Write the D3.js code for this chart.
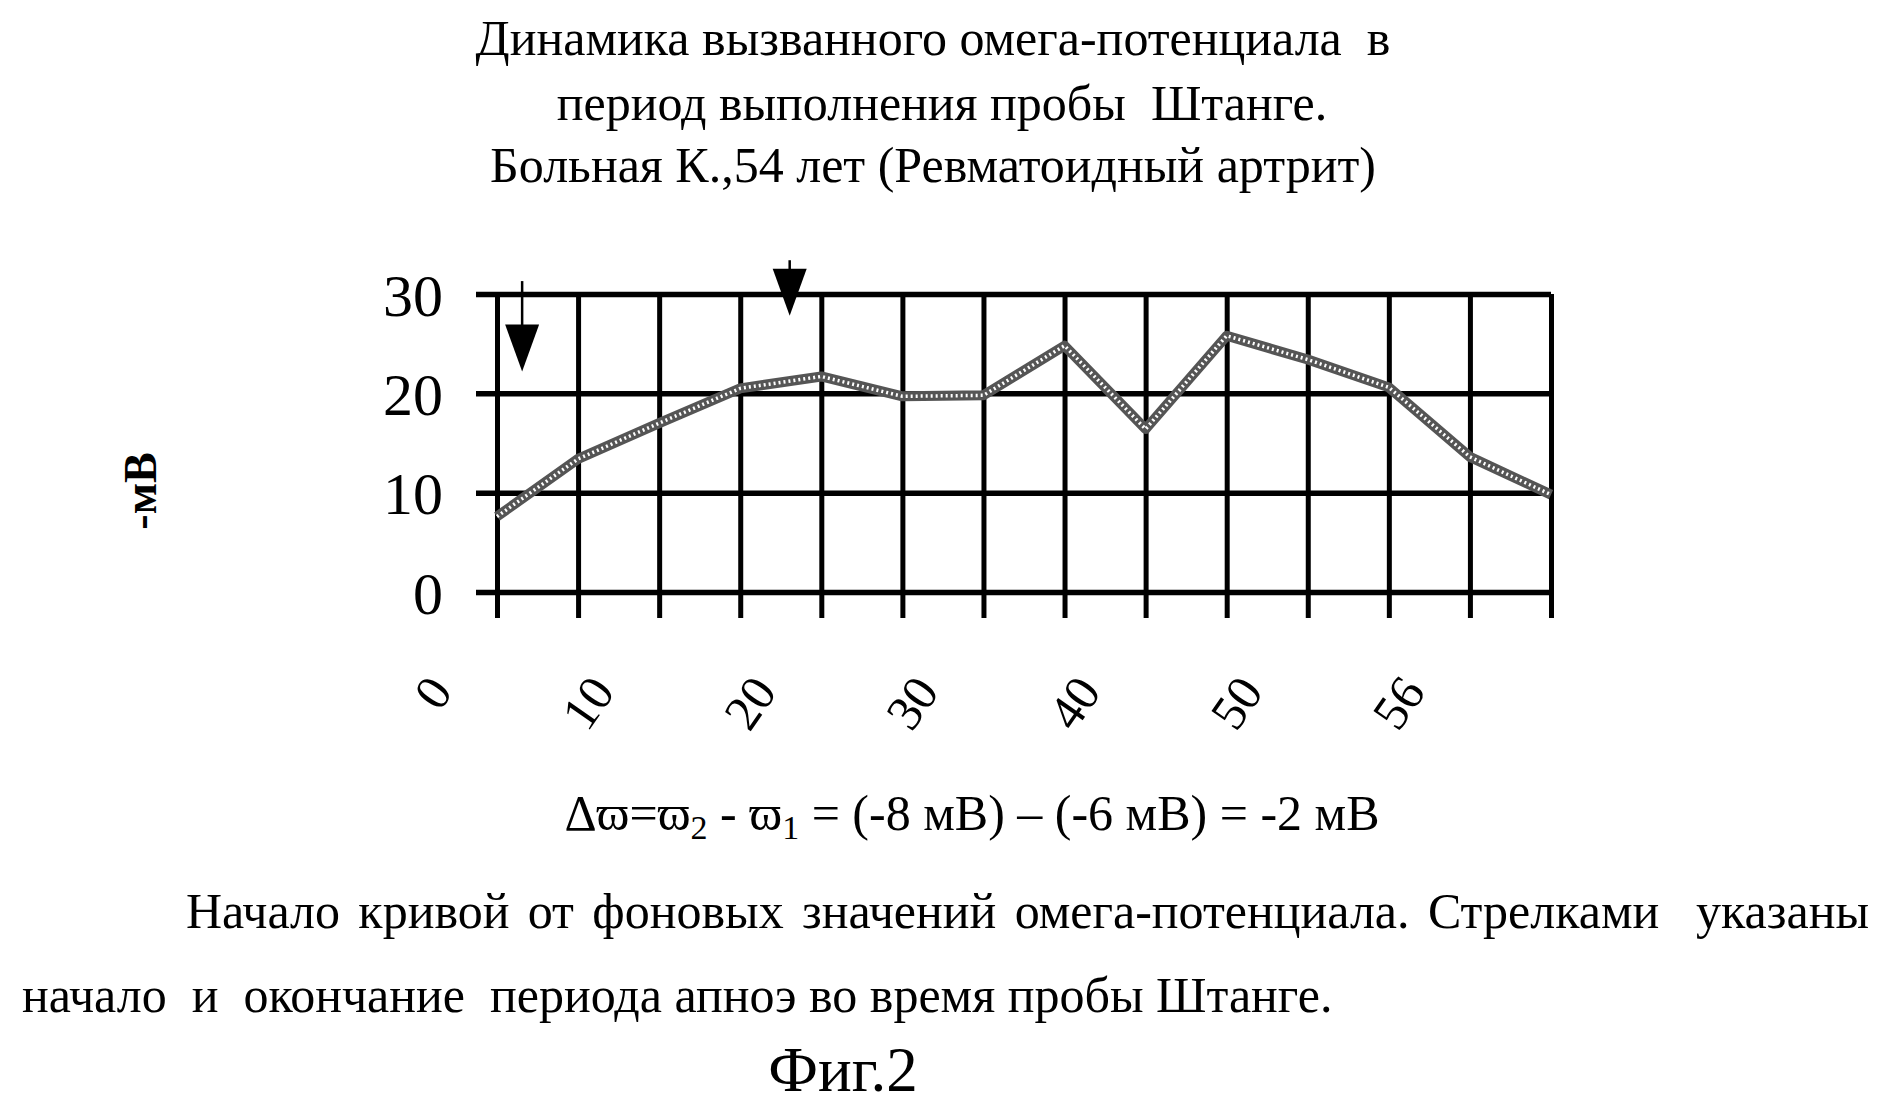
<!doctype html>
<html>
<head>
<meta charset="utf-8">
<title>Фиг.2</title>
<script src="https://d3js.org/d3.v7.min.js"></script>
<style>
  body { margin: 0; background: #fff; }
  svg text { font-family: "Liberation Serif", "Times New Roman", serif; fill: #000; white-space: pre; }
</style>
</head>
<body>
<script>
// values
var points = [0, 1, 2, 3, 4, 5, 6, 7, 8, 9, 10, 11, 12, 13];
var omega = [7.6, 13.4, 17.0, 20.5, 21.7, 19.7, 19.8, 24.8, 16.4, 25.8, 23.4, 20.6, 13.6, 9.8];
var xLabels = ["0", "10", "20", "30", "40", "50", "56"];   // every second point
var yTicks = [0, 10, 20, 30];
// arrows: start and end of apnoea (x in points, y in mV)
var arrowX = [0.31, 3.61];
var arrowTop = [31.3, 33.4];
var arrowTip = [22.2, 27.8];

var titleLines = [
  "Динамика вызванного омега-потенциала  в",
  "период выполнения пробы  Штанге.",
  "Больная К.,54 лет (Ревматоидный артрит)"
];

var W = 1879, H = 1119;
var svg = d3.select("body").append("svg").attr("width", W).attr("height", H);

var x = d3.scaleLinear().domain([0, 13]).range([497, 1551]);
var y = d3.scaleLinear().domain([0, 30]).range([592, 294]);

// title
svg.selectAll("text.title")
  .data(titleLines)
  .enter()
  .append("text")
  .attr("class", "title")
  .attr("x", function (d, i) { return i === 1 ? 942 : 933; })
  .attr("y", function (d, i) { return [55, 120, 182][i]; })
  .attr("text-anchor", "middle")
  .attr("font-size", 50)
  .text(function (d) { return d; });

// horizontal grid + y labels
var yAxis = d3.axisLeft(y).tickValues(yTicks).tickSize(x(13) - 476).tickPadding(33);
var gy = svg.append("g").attr("transform", "translate(" + x(13) + ",0)").call(yAxis);
gy.select(".domain").remove();
gy.selectAll("line").attr("stroke", "#000").attr("stroke-width", 5.5);
gy.selectAll("text").attr("font-size", 60).attr("font-family", "Liberation Serif").attr("dy", "0.35em");

// vertical grid + x ticks
var xAxis = d3.axisBottom(x).tickValues(points).tickSize(618 - y(30)).tickFormat(function (d) {
  return d % 2 === 0 ? xLabels[d / 2] : "";
});
var gx = svg.append("g").attr("transform", "translate(0," + y(30) + ")").call(xAxis);
gx.select(".domain").remove();
gx.selectAll("line").attr("stroke", "#000").attr("stroke-width", 5);
gx.selectAll("text")
  .attr("font-size", 50)
  .attr("font-family", "Liberation Serif")
  .attr("text-anchor", "end")
  .attr("y", 0)
  .attr("dy", "0.35em")
  .attr("transform", "translate(-58," + (y(0) - y(30) + 90) + ") rotate(-55)");

// data line
var line = d3.line().x(function (d, i) { return x(points[i]); }).y(function (d) { return y(d); });
svg.append("path").datum(omega).attr("d", line)
  .attr("fill", "none").attr("stroke", "#555").attr("stroke-width", 10).attr("stroke-linejoin", "round");
svg.append("path").datum(omega).attr("d", line)
  .attr("fill", "none").attr("stroke", "#fff").attr("stroke-width", 3.5)
  .attr("stroke-dasharray", "2,3").attr("stroke-linejoin", "round");

// arrows
arrowX.forEach(function (ax, i) {
  var px = x(ax), top = y(arrowTop[i]), tip = y(arrowTip[i]);
  svg.append("line").attr("x1", px).attr("x2", px).attr("y1", top).attr("y2", tip - 40)
    .attr("stroke", "#000").attr("stroke-width", 2.5);
  svg.append("path")
    .attr("d", "M" + (px - 17) + "," + (tip - 47) + "L" + (px + 17) + "," + (tip - 47) + "L" + px + "," + tip + "Z")
    .attr("fill", "#000");
});

// y axis title
svg.append("text")
  .attr("transform", "translate(156,491) rotate(-90)")
  .attr("text-anchor", "middle")
  .attr("font-size", 46)
  .attr("font-weight", "bold")
  .text("-мВ");

// formula
var f = svg.append("text").attr("x", 972).attr("y", 830).attr("text-anchor", "middle").attr("font-size", 50);
f.append("tspan").text("Δϖ=ϖ");
f.append("tspan").attr("font-size", 34).attr("dy", 9).text("2");
f.append("tspan").attr("dy", -9).text(" - ϖ");
f.append("tspan").attr("font-size", 34).attr("dy", 9).text("1");
f.append("tspan").attr("dy", -9).text(" = (-8 мВ) – (-6 мВ) = -2 мВ");

// note, first line justified
var p1 = svg.append("text").attr("x", 186).attr("y", 928).attr("font-size", 50)
  .text("Начало кривой от фоновых значений омега-потенциала. Стрелками  указаны");
var spaces = 8;
var extra = (1869 - 186 - p1.node().getComputedTextLength()) / spaces;
p1.attr("word-spacing", extra);

svg.append("text").attr("x", 22).attr("y", 1012).attr("font-size", 50)
  .text("начало  и  окончание  периода апноэ во время пробы Штанге.");

svg.append("text").attr("x", 843).attr("y", 1091).attr("text-anchor", "middle").attr("font-size", 63)
  .text("Фиг.2");
</script>
</body>
</html>
